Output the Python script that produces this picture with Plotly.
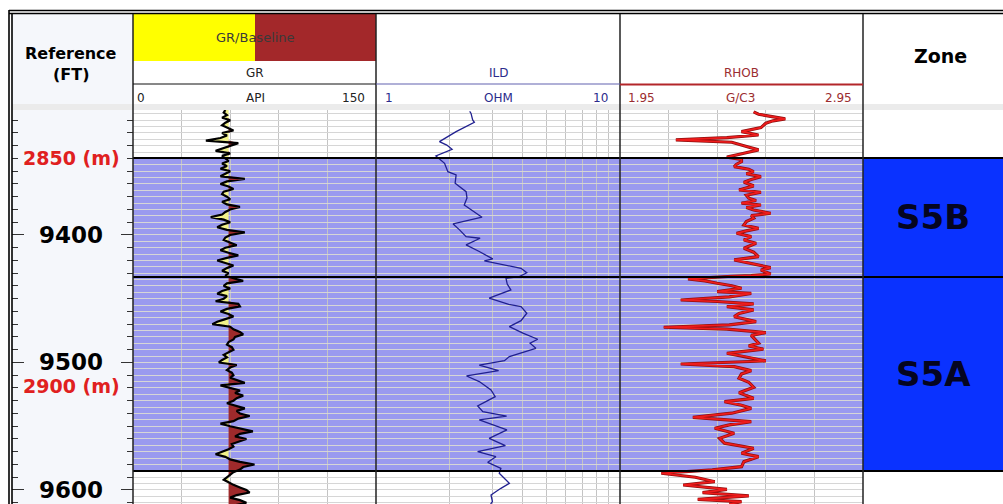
import plotly.graph_objects as go

# ---------------- data ----------------
DEPTH_TOP, DEPTH_BOTTOM = 9302, 9611
GR_START, GR_STEP = 9302, 2
GR = [57, 56, 58, 55, 60, 57, 55, 59, 62, 55,
      58, 54, 45, 65, 60, 56, 51, 60, 55, 57,
      59, 55, 58, 54, 60, 57, 54, 69, 58, 54,
      59, 62, 56, 55, 58, 60, 55, 58, 66, 60,
      57, 55, 48, 56, 60, 55, 52, 58, 69, 60,
      57, 56, 60, 64, 57, 54, 59, 65, 58, 52,
      57, 62, 58, 55, 59, 57, 62, 68, 58, 56,
      60, 55, 52, 58, 56, 51, 65, 66, 58, 54,
      59, 62, 57, 52, 49, 60, 62, 66, 68, 63,
      62, 59, 58, 61, 62, 59, 56, 58, 55, 53,
      64, 60, 58, 61, 62, 60, 65, 69, 54, 60,
      66, 63, 68, 64, 62, 58, 63, 69, 64, 66,
      72, 65, 62, 54, 60, 67, 74, 66, 63, 70,
      66, 61, 62, 59, 55, 51, 57, 60, 66, 75,
      68, 66, 62, 60, 58, 56, 59, 62, 66, 70,
      72, 64, 60, 66, 70, 63]
GR_DEPTH = [GR_START + GR_STEP * i for i in range(len(GR))]
GR_BASELINE = 59.0

ILD_DEPTH = [9303.0, 9304.5, 9309.8, 9311.6, 9319.0, 9326.8, 9329.5, 9332.8, 9338.0, 9343.8,
             9350.4, 9352.9, 9359.4, 9366.0, 9371.0, 9376.5, 9386.1, 9391.4, 9396.0, 9401.3,
             9402.6, 9407.8, 9413.0, 9418.8, 9420.4, 9426.1, 9429.6, 9432.7, 9434.0, 9438.5,
             9443.1, 9449.6, 9454.4, 9456.2, 9461.4, 9467.2, 9471.9, 9477.0, 9481.8, 9484.9,
             9488.9, 9495.4, 9498.6, 9502.0, 9506.4, 9510.6, 9515.0, 9521.6, 9526.8, 9534.1,
             9538.6, 9542.0, 9545.1, 9552.9, 9559.5, 9565.2, 9569.9, 9573.9, 9578.3, 9583.0,
             9586.9, 9590.5, 9594.8, 9598.7, 9603.9, 9609.2, 9611.0]
ILD = [2.42, 2.45, 2.49, 2.53, 2.13, 1.82, 1.95, 2.05, 1.76, 1.91,
       1.97, 2.13, 2.11, 2.34, 2.36, 2.30, 2.72, 2.07, 2.20, 2.34,
       2.67, 2.34, 2.65, 3.01, 2.78, 3.93, 4.15, 3.87, 3.41, 3.45,
       3.57, 2.91, 3.50, 3.93, 4.15, 3.93, 3.52, 4.00, 4.60, 4.28,
       4.52, 3.52, 3.36, 2.65, 3.18, 2.35, 2.65, 2.96, 3.08, 2.61,
       2.74, 3.43, 2.65, 3.44, 2.91, 3.39, 2.61, 3.10, 2.87, 3.25,
       3.20, 3.35, 3.52, 3.25, 2.96, 3.00, 2.95]

RHOB_DEPTH = [9303.5, 9305.3, 9307.0, 9309.0, 9310.5, 9312.4, 9315.8, 9317.5, 9319.0, 9321.6,
              9323.7, 9325.5, 9327.3, 9330.0, 9333.3, 9335.9, 9339.0, 9340.8, 9342.5, 9344.5,
              9346.4, 9348.5, 9350.3, 9352.0, 9354.3, 9356.5, 9358.7, 9361.5, 9364.7, 9366.5,
              9368.8, 9371.2, 9373.0, 9375.1, 9376.5, 9378.5, 9380.4, 9383.0, 9384.8, 9386.9,
              9389.5, 9392.2, 9394.8, 9396.8, 9398.7, 9401.3, 9404.0, 9406.5, 9408.5, 9410.4,
              9413.5, 9417.0, 9419.6, 9421.5, 9423.0, 9425.6, 9427.5, 9430.6, 9431.9, 9432.4,
              9434.5, 9436.0, 9437.9, 9439.8, 9441.8, 9444.5, 9445.8, 9448.5, 9451.0, 9452.2,
              9454.1, 9456.2, 9458.8, 9461.5, 9464.1, 9468.0, 9470.5, 9472.4, 9473.9, 9476.6,
              9478.8, 9481.0, 9484.9, 9487.0, 9489.6, 9492.8, 9495.5, 9498.8, 9501.2, 9503.3,
              9506.4, 9509.0, 9512.4, 9515.5, 9519.5, 9523.7, 9526.0, 9528.1, 9530.7, 9533.5,
              9536.0, 9539.8, 9543.0, 9546.4, 9549.0, 9551.6, 9555.5, 9559.5, 9563.3, 9565.5,
              9567.3, 9571.2, 9573.9, 9577.8, 9581.7, 9584.3, 9586.9, 9590.0, 9593.5, 9596.1,
              9599.5, 9602.1, 9604.7, 9607.3, 9609.2, 9611.0]
RHOB = [2.50, 2.52, 2.57, 2.63, 2.58, 2.55, 2.53, 2.49, 2.45, 2.52,
        2.39, 2.18, 2.41, 2.46, 2.52, 2.46, 2.39, 2.45, 2.45, 2.43,
        2.42, 2.48, 2.50, 2.47, 2.53, 2.49, 2.46, 2.50, 2.44, 2.53,
        2.47, 2.48, 2.51, 2.45, 2.53, 2.47, 2.50, 2.57, 2.49, 2.50,
        2.47, 2.46, 2.52, 2.47, 2.43, 2.49, 2.46, 2.51, 2.48, 2.46,
        2.50, 2.52, 2.42, 2.47, 2.50, 2.57, 2.53, 2.57, 2.49, 2.41,
        2.23, 2.30, 2.35, 2.41, 2.45, 2.35, 2.49, 2.40, 2.20, 2.35,
        2.50, 2.39, 2.50, 2.44, 2.42, 2.51, 2.40, 2.13, 2.39, 2.55,
        2.49, 2.50, 2.52, 2.48, 2.54, 2.39, 2.47, 2.55, 2.20, 2.42,
        2.49, 2.45, 2.44, 2.48, 2.50, 2.44, 2.47, 2.50, 2.38, 2.45,
        2.49, 2.41, 2.25, 2.49, 2.40, 2.34, 2.42, 2.36, 2.38, 2.44,
        2.50, 2.45, 2.52, 2.46, 2.45, 2.33, 2.12, 2.26, 2.34, 2.21,
        2.39, 2.29, 2.48, 2.27, 2.45, 2.40]

ZONE_NAMES = ["S5B", "S5A"]
ZONE_TOP = [9339.6, 9432.9]
ZONE_BASE = [9432.9, 9585.1]

DEPTH_LABELS = [9400, 9500, 9600]
METRIC_LABELS = ["2850 (m)", "2900 (m)"]
METRIC_DEPTHS = [9339.6, 9518.4]

GR_SCALE = [0, 150]
ILD_SCALE = [1, 10]
RHOB_SCALE = [1.95, 2.95]

assert len(ILD) == len(ILD_DEPTH) and len(RHOB) == len(RHOB_DEPTH)

# ---------------- layout helpers ----------------
W, H = 1003, 504
def PX(x):
    return x / W
def PY(y):
    return 1 - y / H

REF = (12, 133)
TGR = (133, 376)
TILD = (376, 620)
TRHOB = (620, 863)
TZONE = (863, 1003)
DATA_TOP = 110

HGRID = "#d6d6d6"
VGRID = "#c4c4c4"
SHADE = "#9a9aef"
ZONE_BLUE = "#0a32ff"

fig = go.Figure()

# GR fills (yellow below baseline, brown above)
gr_low = [min(v, GR_BASELINE) for v in GR]
gr_high = [max(v, GR_BASELINE) for v in GR]
base = [GR_BASELINE] * len(GR)
nol = dict(width=0, color="rgba(0,0,0,0)")
fig.add_trace(go.Scatter(x=base, y=GR_DEPTH, mode="lines", line=nol, xaxis="x", yaxis="y", hoverinfo="skip"))
fig.add_trace(go.Scatter(x=gr_low, y=GR_DEPTH, mode="lines", line=nol, fill="tonextx",
                         fillcolor="#f2f28a", xaxis="x", yaxis="y", hoverinfo="skip"))
fig.add_trace(go.Scatter(x=base, y=GR_DEPTH, mode="lines", line=nol, xaxis="x", yaxis="y", hoverinfo="skip"))
fig.add_trace(go.Scatter(x=gr_high, y=GR_DEPTH, mode="lines", line=nol, fill="tonextx",
                         fillcolor="#9e2a2b", xaxis="x", yaxis="y", hoverinfo="skip"))
fig.add_trace(go.Scatter(x=GR, y=GR_DEPTH, mode="lines", line=dict(color="black", width=2.2),
                         xaxis="x", yaxis="y", name="GR"))

# ILD
fig.add_trace(go.Scatter(x=ILD, y=ILD_DEPTH, mode="lines", line=dict(color="#20208f", width=1.3),
                         xaxis="x2", yaxis="y2", name="ILD"))

# RHOB
fig.add_trace(go.Scatter(x=RHOB, y=RHOB_DEPTH, mode="lines", line=dict(color="#8e0f0f", width=3.2),
                         xaxis="x3", yaxis="y3", hoverinfo="skip"))
fig.add_trace(go.Scatter(x=RHOB, y=RHOB_DEPTH, mode="lines", line=dict(color="#f01c1c", width=1.7),
                         xaxis="x3", yaxis="y3", name="RHOB"))

# invisible anchors for the reference-column axes
fig.add_trace(go.Scatter(x=[0.5], y=[DEPTH_LABELS[0]], mode="markers", marker=dict(opacity=0),
                         xaxis="x4", yaxis="y4", hoverinfo="skip"))
fig.add_trace(go.Scatter(x=[0.5], y=[DEPTH_LABELS[0]], mode="markers", marker=dict(opacity=0),
                         xaxis="x4", yaxis="y5", hoverinfo="skip"))

yr = [DEPTH_BOTTOM, DEPTH_TOP]
ydom = [0, PY(DATA_TOP)]

def track_y(anchor):
    return dict(domain=ydom, range=yr, anchor=anchor, tick0=9300, dtick=5, showgrid=True,
                gridcolor=HGRID, gridwidth=1, showticklabels=False, ticks="", zeroline=False,
                showline=False, fixedrange=True)

def track_x(dom, **kw):
    d = dict(domain=[PX(dom[0]), PX(dom[1])], showgrid=True, gridcolor=VGRID, gridwidth=1,
             showticklabels=False, ticks="", zeroline=False, showline=False, fixedrange=True,
             anchor=kw.pop("anchor"))
    d.update(kw)
    return d

ref_y = dict(domain=ydom, range=yr, anchor="x4", tick0=9400, dtick=100, ticks="inside", ticklen=12,
             tickcolor="#333", tickwidth=1.3, showticklabels=False, showgrid=False, zeroline=False,
             showline=False, fixedrange=True,
             minor=dict(dtick=10, ticklen=6, ticks="inside", tickcolor="#333", tickwidth=1.3, showgrid=False))

fig.update_layout(
    width=W, height=H, autosize=False, margin=dict(l=0, r=0, t=0, b=0),
    paper_bgcolor="white", plot_bgcolor="rgba(0,0,0,0)", showlegend=False,
    xaxis=track_x(TGR, anchor="y", range=GR_SCALE, tick0=0, dtick=30),
    yaxis=track_y("x"),
    xaxis2=track_x(TILD, anchor="y2", type="log", range=[0, 1], tickvals=[2, 3, 4, 5, 6, 7, 8, 9]),
    yaxis2=track_y("x2"),
    xaxis3=track_x(TRHOB, anchor="y3", range=RHOB_SCALE, tick0=1.95, dtick=0.2),
    yaxis3=track_y("x3"),
    xaxis4=dict(domain=[PX(REF[0]), PX(REF[1])], range=[0, 1], showgrid=False, showticklabels=False,
                ticks="", zeroline=False, showline=False, fixedrange=True, anchor="y4"),
    yaxis4=dict(ref_y, side="left"),
    yaxis5=dict(ref_y, side="right", overlaying="y4"),
)

shapes = []
def rect(x0, x1, y0, y1, color, layer="below"):
    shapes.append(dict(type="rect", xref="paper", yref="paper", x0=PX(x0), x1=PX(x1), y0=PY(y0), y1=PY(y1),
                       fillcolor=color, line=dict(width=0), layer=layer))
def line(x0, y0, x1, y1, color="black", width=1.5):
    shapes.append(dict(type="line", xref="paper", yref="paper", x0=PX(x0), x1=PX(x1), y0=PY(y0), y1=PY(y1),
                       line=dict(color=color, width=width), layer="above"))

# backgrounds
rect(REF[0], REF[1], 14, H, "#f5f7fb")
rect(REF[0], W, 104, DATA_TOP, "#ebebeb")
rect(TGR[0], 255, 14, 61, "#ffff00")
rect(255, TGR[1], 14, 61, "#a3282a")

# zone shading & zone blocks (depth referenced)
for top, bot in zip(ZONE_TOP, ZONE_BASE):
    shapes.append(dict(type="rect", xref="paper", yref="y", x0=PX(TGR[0]), x1=PX(TRHOB[1]), y0=top, y1=bot,
                       fillcolor=SHADE, line=dict(width=0), layer="below"))
    shapes.append(dict(type="rect", xref="paper", yref="y", x0=PX(TZONE[0]), x1=1, y0=top, y1=bot,
                       fillcolor=ZONE_BLUE, line=dict(width=0), layer="below"))
for d in sorted(set(ZONE_TOP + ZONE_BASE)):
    shapes.append(dict(type="line", xref="paper", yref="y", x0=PX(TGR[0]), x1=1, y0=d, y1=d,
                       line=dict(color="black", width=2), layer="above"))

# frame lines
line(9, 10.5, W, 10.5, width=1.6)
line(9, 13.5, W, 13.5, width=1.6)
line(9, 10, 9, H, width=1.6)
line(12, 13, 12, H, width=1.6)
for xb in (TGR[0], TILD[0], TRHOB[0], TZONE[0]):
    line(xb, 14, xb, H, color="#222", width=1.5)
line(TGR[0], 84, TGR[1], 84, color="#111", width=1)
line(TILD[0], 84, TILD[1], 84, color="#6262b0", width=1.2)
line(TRHOB[0], 84.5, TRHOB[1], 84.5, color="#b3262a", width=2.2)

fig.update_layout(shapes=shapes)

ann = []
def text(x, y, s, size=12, color="#222", bold=False, family="DejaVu Sans", xanchor="center",
         yanchor="middle", yref="paper"):
    ann.append(dict(x=PX(x), y=(PY(y) if yref == "paper" else y), xref="paper", yref=yref, text=s,
                    showarrow=False, xanchor=xanchor, yanchor=yanchor, borderpad=0,
                    font=dict(family=family, size=size, color=color, weight="bold" if bold else "normal")))

# header texts
text(71, 64, "Reference", size=16, color="black", bold=True, yanchor="bottom")
text(71, 64, "(FT)", size=16, color="black", bold=True, yanchor="top")
text(255, 38, "GR/Baseline", size=13, color="#3a3a3a")
text(255, 73, "GR", size=12, color="#222")
text(141, 98, "0", size=12, color="#222")
text(255, 98, "API", size=12, color="#222")
text(366, 98, "150", size=12, color="#222", xanchor="right")
ild_c = "#2b2b8c"
text(498, 73, "ILD", size=12, color=ild_c)
text(389, 98, "1", size=12, color=ild_c)
text(498, 98, "OHM", size=12, color=ild_c)
text(609, 98, "10", size=12, color=ild_c, xanchor="right")
rh_c = "#9b2d30"
text(741, 73, "RHOB", size=12, color=rh_c)
text(627, 98, "1.95", size=12, color=rh_c, xanchor="left")
text(740, 98, "G/C3", size=12, color=rh_c)
text(853, 98, "2.95", size=12, color=rh_c, xanchor="right")
text(940, 56, "Zone", size=19, color="black", bold=True)

# depth labels
for d in DEPTH_LABELS:
    text(71, d, str(d), size=23, color="black", bold=True, yref="y")
for s, d in zip(METRIC_LABELS, METRIC_DEPTHS):
    text(71, d, s, size=19, color="#e02020", bold=True, yref="y")
for name, top, bot in zip(ZONE_NAMES, ZONE_TOP, ZONE_BASE):
    text(933, (top + bot) / 2, name, size=34, color="#050520", bold=True, yref="y")

fig.update_layout(annotations=ann)
fig.write_html("out.html")
